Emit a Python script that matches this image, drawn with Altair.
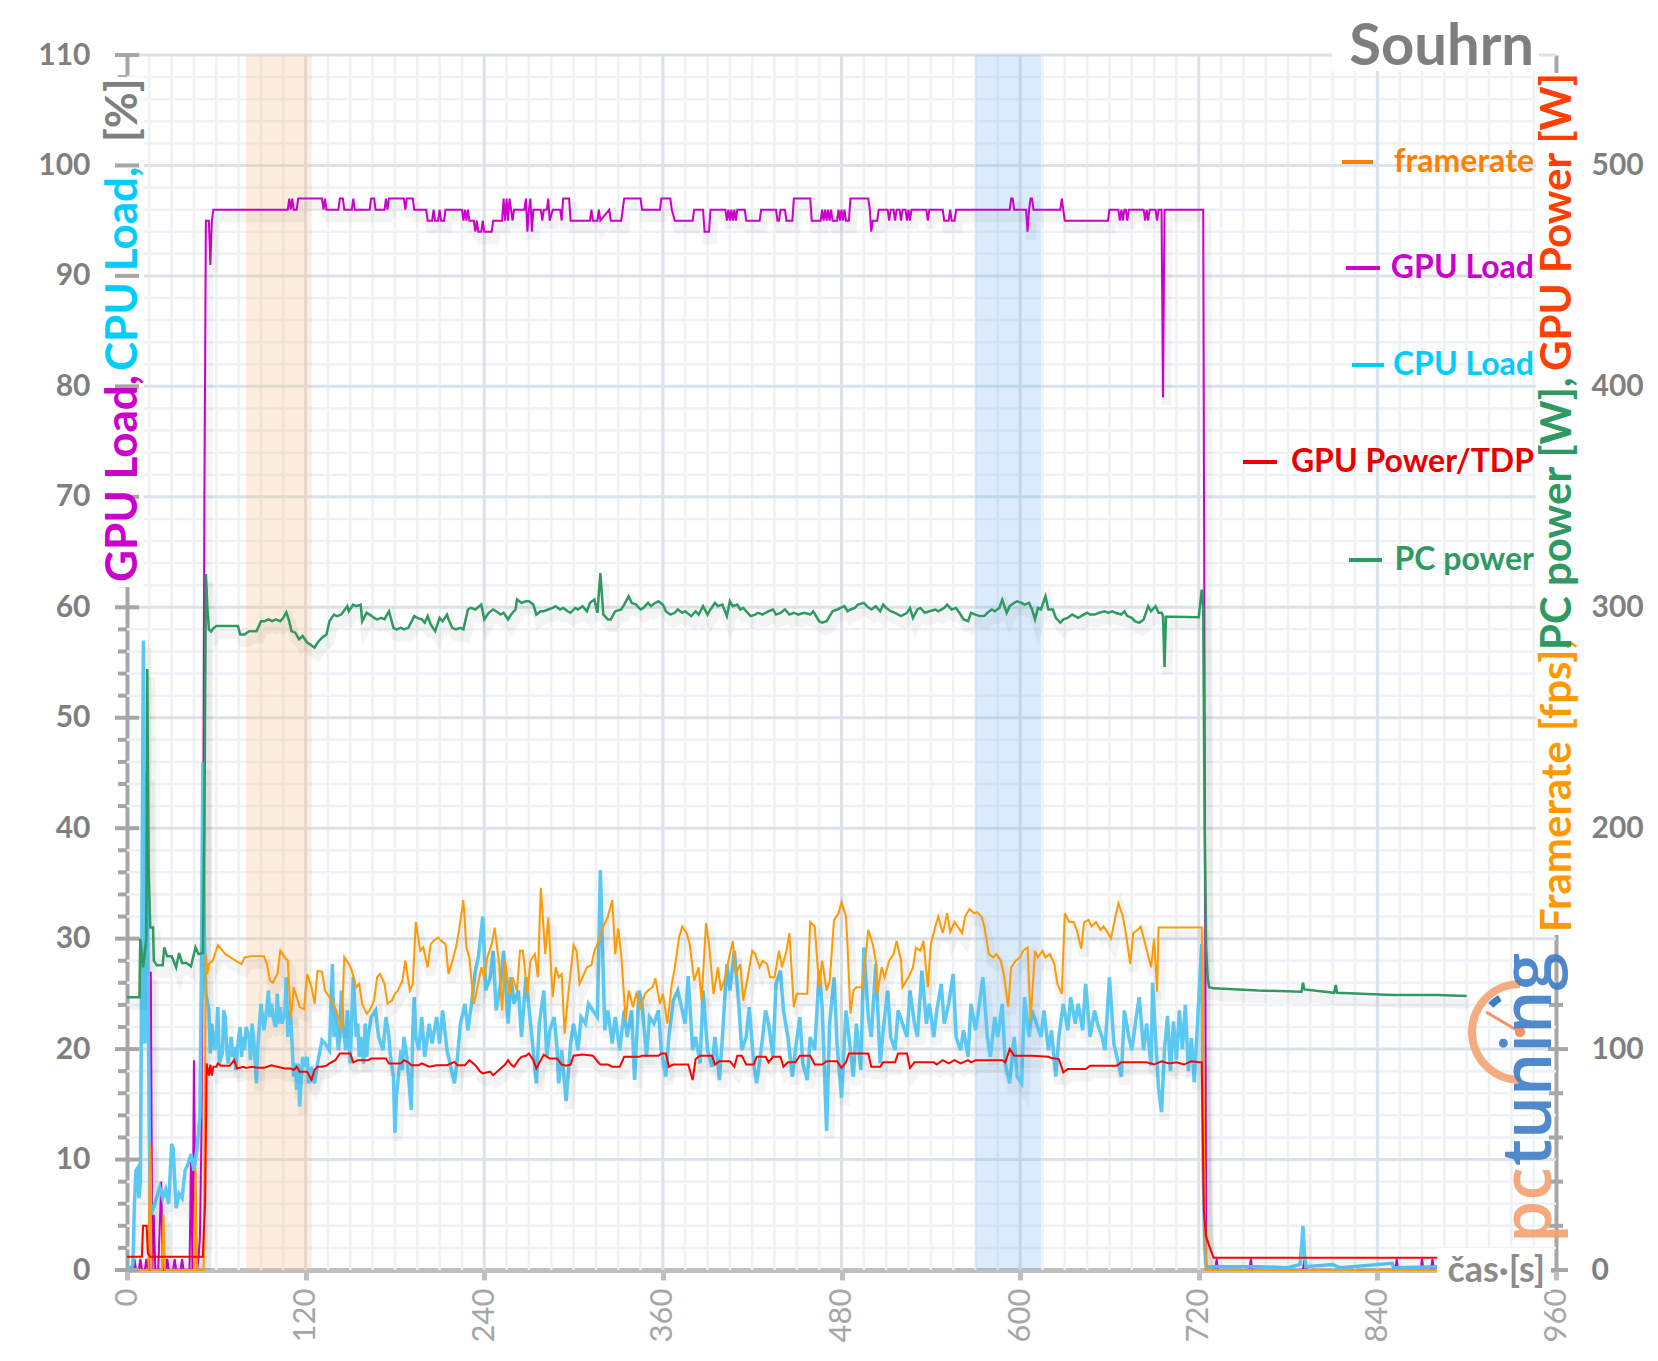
import altair as alt
import pandas as pd

W, H = 1429, 1215
FONT = "Lato"

# ---------------- data (time [s], value) ----------------
GPU_LOAD = [(0,0),(4,0),(5,1),(6,0),(8,0),(9,1),(10,0),(12,0),(13,1),(14,0),(15,0),(16,27),(17,0),(18,5),(19,0),(21,0),(23,8),(24,0),(26,0),(27,1),(28,0),(31,0),(32,1),(33,0),(36,0),(37,1),(38,0),(42,0),(43,10),(44,0),(45,19),(46,5),(47,0),(48,1),(49,3),(50,12),(51,32),(52,70),(53,95),(55,95),(56,91),(57,95),(58,96),
(108,96),(109,97),(110,96),(111,97),(112,96),(114,96),(115,97),(131,97),(132,96),(133,97),(134,96),(142,96),(143,97),(145,97),(146,96),(151,96),(152,97),(153,96),(163,96),(164,97),(166,97),(167,96),(173,96),(174,97),(175,96),(176,97),(186,97),(187,96),(188,97),(192,97),(193,96),(201,96),(202,95),(205,95),(206,96),(207,95),(209,95),(210,96),(211,95),(213,95),(214,96),(225,96),(226,95),(227,96),(228,95),(229,96),(230,95),(233,95),(234,94),(235,95),(236,94),(238,94),(239,95),(240,94),(245,94),(246,95),(252,95),(253,97),(254,95),(255,97),(256,95),(257,97),(258,96),(259,95),(260,96),(267,96),(268,97),(269,94),(270,96),(271,97),(272,94),(273,96),(278,96),(279,95),(280,96),(282,96),(283,97),(284,95),(286,96),(291,96),(292,95),(293,97),(297,97),(298,95),(311,95),(312,96),(313,95),(316,95),(317,96),(318,95),(324,96),(325,95),(332,95),(334,97),(345,97),(346,96),(358,96),(359,97),(365,97),(366,96),(368,95),
(380,95),(381,96),(387,96),(388,94),(391,94),(392,96),(402,96),(403,95),(404,96),(405,95),(406,96),(407,95),(408,96),(409,95),(410,96),(415,96),(416,95),(425,95),(426,96),(436,96),(437,95),(438,95),(439,96),(442,96),(443,95),(447,95),(448,97),(459,97),(460,95),(466,95),(467,96),(468,95),(469,96),(470,95),(471,96),(472,95),(473,96),(474,95),(477,95),(478,96),(479,95),(480,96),(481,95),(482,96),(483,95),(485,95),(486,97),(498,97),(499,96),(500,94),(501,95),(504,95),(505,96),(511,96),(512,95),(513,96),(515,96),(516,95),(517,96),(519,96),(520,95),(521,96),(523,96),(524,95),(525,96),(526,95),(527,96),(537,96),(538,95),(539,96),(548,96),(549,95),(552,95),(553,96),(554,95),(556,95),(557,96),(593,96),(594,97),(595,97),(596,96),(604,96),(605,94),(606,96),(607,97),(608,97),(609,96),(627,96),(628,97),(629,96),(630,95),(659,95),(660,96),(666,96),(667,95),(668,96),(669,95),(670,96),(671,96),(672,95),(673,96),(683,96),(684,95),(685,96),(686,95),(687,96),(691,96),(692,95),(693,96),(695,96),(696,79),(697,96),(723,96),(725,0),
(731,0),(732,1),(733,0),(754,0),(755,1),(756,0),(790,0),(791,1),(792,0),(852,0),(853,1),(854,0),(869,0),(870,1),(871,0),(876,0),(877,1),(878,0),(882,0)]

CPU_LOAD = [(0,0.3),(2,0),(4,0.5),(5,6),(6,9),(7,9.2),(8,6.5),(9,8),(10,30),(11,57),(12,20.5),(13,45),(14,29),(15,12),(16,5),(18,5.7),(20,6.6),(22,7.5),(24,6.5),(26,7.3),(28,6),(30,11.4),(31,11),(33,5.6),(35,6.9),(37,6.5),(39,9),(41,9.6),(43,10.5),(45,9),(47,11),(49,14),(50,27),(51,46),(52,30),(53,25),
(55,23.5),(56,19.6),(57,22.3),(59,19.9),(60,21.1),(61,23.8),(62,18.7),(64,19.6),(65,23.5),(66,22.9),(67,19.9),(68,18.7),(70,21.1),(71,19.3),(72,20.2),(73,18.1),(75,21.1),(76,22.0),(77,19.3),(78,21.1),(79,19.9),(80,22.0),(82,21.1),(83,19.0),(84,22.3),(85,21.1),(87,16.9),(88,20.5),(89,22.3),(90,24.1),(91,22.9),(92,21.7),(94,23.8),(95,25.3),(96,22.9),(97,24.1),(99,22.3),(100,22.0),(101,25.0),(102,22.3),(103,23.8),(104,22.3),(106,23.2),(107,26.5),(108,21.1),(109,23.5),(110,22.9),(112,17.5),(113,18.7),(114,16.3),(115,18.7),(116,14.8),(118,19.3),(119,18.4),(121,19.3),(122,16.9),(124,18.4),(126,16.9),(128,18.7),(131,20.8),(133,20.5),(136,19.9),(138,27.7),(139,21.1),(140,23.5),(142,19.9),(143,21.1),(144,25.3),(145,22.3),(147,19.9),(148,23.5),(149,21.1),(150,18.7),(151,22.9),(152,26.5),(154,21.1),(155,22.3),(156,19.3),(157,21.1),(159,18.7),(160,22.3),(161,19.3),(162,21.1),(164,22.9),(167,23.5),(169,21.1),(172,19.9),(174,22.9),(176,21.1),(177,19.3),(179,17.5),(180,12.4),(181,15.7),(184,19.9),(185,18.1),(186,21.1),(188,19.3),(191,14.5),(192,21.7),(193,24.7),(194,21.1),(196,19.9),(198,22.9),(200,19.3),(203,22.3),(205,20.5),(208,22.9),(210,20.5),(212,23.5),(215,19.9),(217,18.7),(220,16.9),(222,19.3),(224,22.3),(227,24.1),(229,21.7),(232,24.7),(234,27.1),(236,28.3),(239,32.0),(241,25.3),(244,26.5),(246,28.9),(248,23.5),(251,25.9),(253,28.9),(256,22.3),(258,26.5),(260,24.1),(263,25.3),(265,21.1),(268,26.5),(270,23.8),(272,21.1),(275,16.9),(277,22.3),(280,25.3),(282,19.3),(284,21.7),(287,22.9),(289,19.9),(290,16.9),(292,19.9),(295,15.3),(298,20.5),(300,22.3),(303,19.9),(305,22.9),(308,22.3),(310,24.1),(313,23.5),(316,22.9),(318,36.2),(321,21.7),(323,23.5),(326,20.5),(328,22.9),(331,19.9),(334,23.5),(336,21.1),(339,23.5),(341,17.2),(344,25.3),(346,24.1),(349,19.3),(351,22.9),(354,22.3),(357,23.5),(359,19.9),(362,17.5),(364,21.1),(367,24.4),(370,25.3),(372,24.1),(375,22.3),(377,26.6),(380,19.9),(382,21.1),(385,18.7),(387,25.3),(390,19.9),(393,18.4),(395,21.1),(398,17.2),(400,21.1),(403,27.7),(405,25.3),(408,28.9),(411,24.1),(413,19.9),(416,21.1),(418,23.8),(421,18.7),(423,16.9),(426,19.9),(429,23.5),(431,22.3),(434,19.3),(436,25.9),(439,27.1),(441,23.5),(444,21.1),(447,17.5),(449,19.9),(452,22.9),(454,18.7),(457,17.2),(459,21.1),(462,19.9),(465,27.1),(467,23.8),(470,12.6),(472,22.3),(475,26.5),(477,20.5),(480,15.6),(483,23.5),(485,21.1),(488,17.5),(490,22.3),(493,18.1),(495,29.2),(498,22.9),(500,21.1),(503,27.7),(506,18.7),(508,21.7),(511,25.3),(513,21.1),(516,19.9),(518,23.5),(521,22.3),(524,21.1),(526,25.3),(529,22.3),(531,21.1),(534,27.1),(537,22.3),(539,24.1),(542,21.1),(544,23.5),(547,25.9),(549,22.3),(552,24.1),(555,26.8),(557,21.1),(560,19.9),(562,21.7),(565,19.3),(567,24.1),(570,21.7),(572,23.5),(575,26.5),(578,21.1),(580,19.3),(583,22.9),(585,21.1),(588,24.1),(590,18.7),(593,16.9),(596,21.1),(598,17.5),(601,16.9),(603,24.7),(606,21.1),(608,23.5),(611,22.3),(614,21.1),(616,23.5),(619,19.9),(621,21.7),(624,17.5),(626,21.1),(629,24.1),(632,21.7),(634,24.7),(637,22.3),(639,24.1),(642,21.7),(644,25.9),(647,21.1),(650,23.5),(652,22.3),(655,21.1),(657,19.9),(660,26.5),(663,20.5),(665,19.3),(668,17.5),(670,23.5),(673,21.1),(675,19.9),(678,22.9),(680,24.7),(683,19.9),(685,22.3),(688,18.5),(689,26),(691,21),(693,16.5),(695,14.3),(697,20),(699,23),(701,18),(703,22.5),(705,19),(707,23.5),(709,20),(711,24),(713,18),(715,21),(717,17),(719,22),(721,27),(722,29.5),(723,10),(724,2),(725,0.3),
(760,0.3),(780,0.2),(788,0.5),(789,2),(790,4),(791,1.5),(792,0.3),(810,0.5),(815,0.2),(850,0.6),(851,0.2),(882,0.3)]

FRAMERATE = [(0,0),(14.5,0),(15.5,57),(16.5,0),(23.5,0),(24.5,25),(25.5,0),(45,0),(46,46),(47,0),(51.5,0),(53,143),(54,134),(55,138.5),(57.6,140),(61,147),(63.6,145),(66,143),(69.6,141.5),(73,140),(77,138.5),(79,141.5),(83,142),(92,142),(94,138.5),(96,131),(98,130),(101,134),(103,144.5),(106,141.5),(108,140),(110,114.5),(112,128),(114,123.5),(116,119),(119,118),(121,134),(124,128),(126,120.5),(128,135.5),(131,135),(133,126.5),(136,123.5),(138,122),(142,114.5),(144,108.5),(146,141.5),(149,138.5),(151,135.5),(154,128),(156,129.5),(158,120.5),(161,116),(163,117.5),(166,122),(168,132.5),(170,134),(173,129.5),(175,120.5),(178,122),(180,125),(182,126.5),(185,131),(187,140),(190,126.5),(192,129.5),(194,157.5),(197,144.5),(199,146),(202,137),(204,147.5),(206,149),(209,150.5),(211,149),(214,147.5),(216,134),(218,138.5),(221,146),(223,153.5),(226,167.5),(228,146),(230,141.5),(233,120.5),(235,126.5),(238,137),(240,132.5),(242,141.5),(245,147.5),(247,155),(250,138.5),(252,117.5),(254,140),(257,125),(259,132.5),(262,126.5),(264,144.5),(266,144.5),(269,125),(271,140),(274,143),(276,132.5),(278,173),(281,143),(283,159.5),(286,123.5),(288,137),(290,132.5),(292,134),(294,107),(296,122),(300,147),(302,144.5),(304,129.5),(307,134),(309,137),(312,138),(314,144.5),(317,149),(319,154),(323,160),(326,167.5),(328,143),(330,154.5),(332,143),(335,113),(337,126.5),(340,119),(342,125),(345,119),(348,125),(350,126.5),(353,128),(355,132),(358,120.5),(360,125),(363,111.5),(366,129.5),(368,137),(371,151),(373,155.5),(376,152.5),(378,147.5),(381,131),(384,137),(386,122),(389,157),(391,147.5),(394,125),(397,137),(399,126.5),(402,132.5),(404,140),(407,149),(409,134),(412,138.5),(414,122),(417,132.5),(420,144.5),(422,143),(425,137),(427,140),(430,138.5),(432,132.5),(435,132.5),(438,144.5),(440,137),(443,144.5),(445,152.5),(448,119),(450,125),(453,125),(457,125),(459,157.5),(462,155.5),(465,128),(467,140),(470,126.5),(472,130.5),(475,158.5),(478,161.5),(480,166.5),(483,160),(484,147.5),(486,116),(488,126.5),(490,128),(494,128),(498,154),(501,147.5),(503,140),(504,125),(507,137),(509,132.5),(512,140),(515,143),(517,149),(520,140),(521,128),(525,132.5),(528,137),(530,146),(533,144.5),(535,149),(538,128),(540,147.5),(543,155.5),(545,160),(548,152.5),(551,161.5),(553,153),(556,157.5),(558,155.5),(561,152.5),(563,160),(566,163.5),(569,161.5),(571,162),(574,160),(576,155.5),(579,143),(582,141.5),(584,143),(587,140),(589,134),(592,119),(594,137),(597,140),(600,141.5),(602,144.5),(605,146),(607,113),(610,144.5),(612,141.5),(615,144.5),(617,141.5),(620,143),(623,138.5),(625,129.5),(628,125),(630,161.5),(633,157.5),(636,157.5),(638,154),(641,145.5),(643,157.5),(646,158.5),(648,155.5),(651,157.5),(654,154),(656,155.5),(659,152.5),(661,150),(664,160),(666,166),(669,160),(671,152.5),(674,138.5),(676,152.5),(679,154),(681,155.5),(685,145),(688,137),(690,150),(692,126),(693,155),(722,155),(723,100),(724,30),(725,0),(882,0)]

GPU_POWER = [(0,6),(10,6),(10.8,20),(13.2,20),(14,7.5),(15.5,6),(51,6),(51.6,17.5),(52.5,30),(53.5,93.5),(55,88),(56,93),(57,88),(58,92),(60,92),(61,93.5),(63,92.5),(66,92.5),(69,92.5),(72,95),(74,91.2),(78,92),(80,91.5),(84,92),(88,91.5),(92,91.5),(97,92.7),(101,92),(106,91.2),(110,91.2),(112,90.5),(114,92),(116,89.7),(119,89.7),(121,89.7),(124,86),(126,90.5),(128,92),(131,92),(134,92.5),(136,93.5),(140,95),(143,98),(146,98),(150,98),(152,94),(155,95),(158,95),(162,95),(164,95.7),(168,95.7),(170,95.7),(174,95.7),(176,93.5),(180,93.5),(184,93.5),(186,95),(189,94),(191,92.7),(196,92.7),(198,93.5),(203,92),(208,92.7),(215,92.7),(220,94.2),(222,92.7),(227,92.7),(230,95),(234,92.7),(237,90),(239,89),(242,89.5),(244,89.7),(246,88.2),(249,90),(251,91.2),(254,93),(256,95),(258,93),(260,92),(263,95),(265,96.5),(268,97),(270,98),(273,95),(275,91.2),(278,95),(280,97.5),(284,95.7),(289,95.7),(292,93),(295,92.5),(298,93),(300,97),(306,97.5),(313,97),(316,94.5),(318,93),(323,93),(326,92),(331,92),(334,96.5),(338,96.5),(344,96.5),(346,97),(357,97),(359,98),(362,98),(364,92),(367,93),(377,93),(380,86),(382,95.5),(385,97),(393,97),(395,93),(398,94.5),(405,94.5),(408,92),(410,97),(413,97),(416,93),(421,93),(423,96.5),(429,96.5),(431,94),(434,96.5),(439,96.5),(441,92),(444,94),(449,94),(452,97),(459,97),(462,93),(467,93),(470,94.5),(477,94.5),(480,91.5),(483,94),(485,98),(498,98),(500,92),(506,92),(508,94),(516,94),(518,98),(524,98),(526,91.5),(529,94),(531,94),(542,94),(544,93),(548,95),(552,93.5),(556,95),(560,93.5),(565,95),(567,94),(570,95),(588,95),(590,94),(593,100),(596,97),(608,97),(619,96.5),(621,96),(626,95.5),(629,89.5),(632,91),(644,91),(647,92.5),(665,92.5),(668,94),(685,94),(690,93),(695,94.5),(700,93.5),(705,94),(710,93),(715,94.5),(720,94),(722,94),(723.4,27.5),(724.8,15.5),(728,9),(730,5.5),(885,5.5)]

PC_POWER = [(0,123.5),(8.4,123.5),(8.9,150),(10.8,137),(13,150),(13.6,272),(14.6,180),(15.6,155),(17.5,155),(18,140),(20,138),(24,138),(25,146),(27,142),(30,142),(33,137),(35,143.5),(37,139),(40,139),(43,137.5),(46,146),(48,143),(51,143.5),(52,200),(53,315),(54,300),(55,290),(56.5,289),(58,290.5),(60,291.5),(74.5,291.5),(76,287.7),(79,287.7),(82,289.2),(87,289.2),(90,293.7),(92.5,293.7),(95,294.5),(97.6,293.7),(100,294.5),(103,293.7),(105,295.2),(107,297.8),(109,293.7),(110.5,289.2),(113,288.5),(115.6,285.5),(118,287),(121,284),(123,283.2),(126,281.7),(128,284),(131,286.2),(134,287.7),(136,293.7),(139,296.7),(141,296),(144,296.7),(148,300.5),(149,298.2),(152,301.2),(154,300.5),(157,301.2),(158,293.7),(161,297.5),(163,296.7),(166,295.2),(168,294.5),(171,295.2),(173,294.5),(176,298.2),(179,290.7),(181,290),(184,290.7),(186,290),(189,290.7),(193,296),(195,295.2),(198,294.5),(200,293),(202,296),(204,292.2),(207,289.2),(210,295.2),(212,293.7),(215,296.7),(216,294.5),(218.5,290.7),(221,290),(224,290.7),(226,290),(229,299),(231,299.7),(234,299),(238,301.2),(240,294.5),(243,297.5),(246,299),(248,298.2),(251,296.7),(253,297.5),(256,294.5),(258,296.7),(261,299),(262,303.5),(265,302),(268,302.7),(270,302.7),(273,301.2),(275,296.7),(278,298.2),(280,298.2),(283,299),(286,299.7),(288,300.5),(291,299),(293,299.7),(296,298.2),(298,297.5),(301,299.7),(303,299),(306,300.5),(309,298.2),(311,302),(314,303.5),(316,297.5),(318,315.5),(320,296.7),(323,294.5),(325,294.5),(328,298.2),(332,299),(334,301.2),(337,305),(339,302),(342,301.2),(345,299),(347,299.7),(350,302),(352,300.5),(355,302),(357,302.7),(360,301.2),(362,298.2),(365,296.7),(368,297.5),(370,299),(373,297.5),(375,298.2),(379,296),(382,298.2),(384,296.7),(387,300.5),(390,296.7),(392,299),(395,302),(397,300.5),(400,301.2),(403,296),(405,302.7),(407,300.5),(410,301.2),(412,299),(414,299.7),(417,297.5),(419,296),(422,296.7),(424,297.5),(427,296.7),(429,297.5),(431,298.2),(434,299),(436,296.7),(439,297.5),(442,299),(445,296.7),(448,297.5),(451,296.7),(455,297.5),(459,296.7),(461,298.2),(465,293.7),(467,293),(470,293.7),(474,298.2),(477,299),(482,300.5),(484,298.2),(486,299),(489,299.7),(491,301.2),(495,302),(497,300.5),(500,299),(503,300.5),(506,298.2),(508,301.2),(510,299.7),(513,298.2),(516,297.5),(520,296),(524,297.5),(526,299.7),(528,295.2),(531,299),(533,299.7),(536,297.5),(539,298.2),(543,299),(545,298.2),(549,299.7),(551,301.2),(554,299),(557,299.7),(560,296.7),(562,294.5),(565,293.7),(567,297.5),(570,296.7),(573,296),(576,296),(578,297.5),(581,299),(583,298.2),(586,299.7),(588,303.4),(591,297.5),(593,300.5),(596,302),(598,302.7),(601,302),(603,301.2),(606,302),(608,299),(610,294.5),(612,299.7),(614,299),(617,305),(619,299),(622,299),(624,295.2),(627,293),(629,294.5),(632,295.2),(635,296.7),(639,295.2),(641,296),(645,297.5),(647,296.7),(650,296.7),(653,297.5),(657,298.2),(659,297.5),(662,298.2),(664,297.5),(668,296.7),(670,298.2),(672,296),(675,295.2),(677,293.7),(680,293),(683,294.5),(686,300.5),(688,298.2),(691,300.5),(693,297.5),(695,297.5),(696,296),(697,273),(698,295.7),(702,295.7),(720,295.5),(722,308),(723,300),(724,200),(725,145),(726,132),(727,128),(730,127.5),(760,126.5),(789,126),(790,130),(791,127),(811,125.5),(812,129),(813,125.5),(850,124.5),(880,124.5),(900,124)]

ORANGE_BAND = [80, 124]
BLUE_BAND = [570, 614]

X_TICKS = [0, 120, 240, 360, 480, 600, 720, 840, 960]
Y_LEFT_TICKS = list(range(0, 111, 10))
Y_RIGHT_TICKS = [0, 100, 200, 300, 400, 500]

# ---------------- scales / axes ----------------
xs = alt.Scale(domain=[0, 960], nice=False, zero=False)
yl = alt.Scale(domain=[0, 110], nice=False, zero=True)
yr = alt.Scale(domain=[0, 550], nice=False, zero=True)

x_axis = alt.Axis(values=X_TICKS, title=None, grid=False, ticks=True, tickSize=10, tickWidth=5,
                  tickColor="#BFBFBF", domainColor="#BFBFBF", domainWidth=5, labelAngle=270,
                  labelAlign="right", labelBaseline="middle", labelFont=FONT, labelFontSize=31,
                  labelColor="#A6A6A6", labelPadding=8, labelFlush=False, labelOverlap=False)
left_axis = alt.Axis(values=Y_LEFT_TICKS, title=None, grid=False, ticks=False, domainColor="#A6A6A6",
                     domainWidth=4, labelFont=FONT, labelFontSize=30, labelFontWeight="bold",
                     labelColor="#7F7F7F", labelPadding=37, labelFlush=False, labelOverlap=False)
right_axis = alt.Axis(values=Y_RIGHT_TICKS, orient="right", title=None, grid=False, ticks=False,
                      domainColor="#A6A6A6", domainWidth=4, labelFont=FONT, labelFontSize=30,
                      labelFontWeight="bold", labelColor="#7F7F7F", labelPadding=35,
                      labelFlush=False, labelOverlap=False)


def XE(field="t"):
    return alt.X(f"{field}:Q", scale=xs, axis=x_axis)


def YL(field="v"):
    return alt.Y(f"{field}:Q", scale=yl, axis=left_axis)


def YR(field="v"):
    return alt.Y(f"{field}:Q", scale=yr, axis=right_axis)


def frame(points):
    return pd.DataFrame(points, columns=["t", "v"])


ONE = pd.DataFrame({"a": [0]})


def shadow(points, yenc_fn, dv):
    # soft drop shadow drawn under a series (offset down-right)
    return (alt.Chart(frame(points))
            .transform_calculate(ts="datum.t + 2", vs=f"datum.v - {dv}")
            .mark_line(color="#000000", opacity=0.045, strokeWidth=10, clip=True)
            .encode(x=XE("ts"), y=yenc_fn("vs")))


# ---------------- grid ----------------
v_minor = [t for t in range(15, 960, 15) if t % 120]
v_major = [t for t in range(120, 960, 120)]
h_minor = [v for v in range(2, 110, 2) if v % 10]
h_major = [v for v in range(10, 111, 10)]

grid = [
    alt.Chart(pd.DataFrame({"t": v_minor})).mark_rule(color="#EEF1F5", strokeWidth=2.5).encode(x=XE()),
    alt.Chart(pd.DataFrame({"v": h_minor})).mark_rule(color="#EEF1F5", strokeWidth=2.5).encode(y=YL()),
    alt.Chart(pd.DataFrame({"t": v_major})).mark_rule(color="#DCE2EA", strokeWidth=3).encode(x=XE()),
    alt.Chart(pd.DataFrame({"v": h_major})).mark_rule(color="#DCE2EA", strokeWidth=3).encode(y=YL()),
]

bands = [
    alt.Chart(pd.DataFrame({"t": [ORANGE_BAND[0]], "t2": [ORANGE_BAND[1]]}))
       .mark_rect(color="#F9C08A", opacity=0.28)
       .encode(x=XE(), x2="t2:Q", y=alt.value(0), y2=alt.value(H)),
    alt.Chart(pd.DataFrame({"t": [BLUE_BAND[0]], "t2": [BLUE_BAND[1]]}))
       .mark_rect(color="#7FB5F0", opacity=0.27)
       .encode(x=XE(), x2="t2:Q", y=alt.value(0), y2=alt.value(H)),
]

left_minor_ticks = alt.Chart(pd.DataFrame({"v": h_minor})).mark_rule(color="#A6A6A6", strokeWidth=4).encode(
    y=YL(), x=alt.value(-9), x2=alt.value(0))

magenta = alt.Chart(frame(GPU_LOAD)).mark_line(color="#CC00CC", strokeWidth=2).encode(x=XE(), y=YL())
cyan = alt.Chart(frame(CPU_LOAD)).mark_line(color="#5BC8F2", strokeWidth=3.5).encode(x=XE(), y=YL())

left = alt.layer(*grid, *bands, left_minor_ticks,
                 shadow(GPU_LOAD, YL, 0.7), shadow(CPU_LOAD, YL, 0.7),
                 magenta, cyan)

right_minor = [v for v in range(20, 550, 20) if v % 100]
right_minor_ticks = alt.Chart(pd.DataFrame({"v": right_minor})).mark_rule(color="#A6A6A6", strokeWidth=4).encode(
    y=YR(), x=alt.value(W - 7), x2=alt.value(W + 7))
right_major_ticks = alt.Chart(pd.DataFrame({"v": Y_RIGHT_TICKS})).mark_rule(color="#A6A6A6", strokeWidth=4).encode(
    y=YR(), x=alt.value(W - 8), x2=alt.value(W + 12))
orange = alt.Chart(frame(FRAMERATE)).mark_line(color="#FF9A00", strokeWidth=2).encode(x=XE(), y=YR())
red = alt.Chart(frame(GPU_POWER)).mark_line(color="#FF0000", strokeWidth=2).encode(x=XE(), y=YR())
green = alt.Chart(frame(PC_POWER)).mark_line(color="#2E9960", strokeWidth=2.5).encode(x=XE(), y=YR())

right = alt.layer(right_minor_ticks, right_major_ticks,
                  shadow(FRAMERATE, YR, 3.5), shadow(GPU_POWER, YR, 3.5), shadow(PC_POWER, YR, 3.5),
                  orange, red, green)


# ---------------- annotations ----------------
def box(x1, x2, y1, y2):
    return alt.Chart(ONE).mark_rect(color="white").encode(
        x=alt.value(x1), x2=alt.value(x2), y=alt.value(y1), y2=alt.value(y2))


def label(s, x, y, color, size, angle=0, align="left", baseline="middle", weight="bold", font=FONT, opacity=1):
    return alt.Chart(ONE).mark_text(text=s, color=color, fontSize=size, angle=angle, align=align,
                                    baseline=baseline, fontWeight=weight, font=font, opacity=opacity).encode(
        x=alt.value(x), y=alt.value(y))


def seg(x1, x2, y, color, width=4):
    return alt.Chart(ONE).mark_rule(color=color, strokeWidth=width).encode(
        x=alt.value(x1), x2=alt.value(x2), y=alt.value(y))


left_major_ticks = alt.Chart(pd.DataFrame({"v": Y_LEFT_TICKS})).mark_rule(color="#A6A6A6", strokeWidth=4).encode(
    y=alt.Y("v:Q", scale=yl, axis=None), x=alt.value(-12), x2=alt.value(12))

annot = [
    box(-31, 17, 22, 532),
    box(W - 20, W + 24, 18, 880),
    box(1205, 1412, -45, 16),
    box(1310, 1424, H - 22, H + 22),
    left_major_ticks,
    label("GPU Load,", 10, 527, "#CC00CC", 44, angle=270, baseline="alphabetic"),
    label("CPU Load,", 10, 316, "#00CCFF", 44, angle=270, baseline="alphabetic"),
    label("[%]", 10, 87, "#7F7F7F", 44, angle=270, baseline="alphabetic"),
    label("Framerate [fps],", W + 15, 877, "#FF9900", 42, angle=270, baseline="alphabetic"),
    label("PC power [W],", W + 15, 595, "#2E9960", 42, angle=270, baseline="alphabetic"),
    label("GPU Power [W]", W + 15, 316, "#FF4000", 42, angle=270, baseline="alphabetic"),
    label("Souhrn", 1407, 10, "#7F7F7F", 58, align="right", baseline="alphabetic"),
    label("čas·[s]", 1418, H + 1, "#8C8C8C", 36, align="right"),
    seg(1215, 1246, 107, "#FF8000"),
    label("framerate", 1407, 107, "#FF8000", 32, align="right"),
    seg(1219, 1253, 213, "#CC00CC"),
    label("GPU Load", 1407, 213, "#CC00CC", 32, align="right"),
    seg(1225, 1257, 310, "#00CCFF"),
    label("CPU Load", 1407, 310, "#00CCFF", 32, align="right"),
    seg(1116, 1150, 407, "#EE0000"),
    label("GPU Power/TDP", 1407, 407, "#E60000", 32, align="right"),
    seg(1222, 1255, 505, "#2E9960"),
    label("PC power", 1407, 505, "#2E9960", 32, align="right"),
    # logo
    alt.Chart(ONE).mark_arc(theta=3.1416, theta2=6.2832, radius=52, radius2=44, color="#F4A372", opacity=0.9)
       .encode(x=alt.value(1393), y=alt.value(977)),
    alt.Chart(ONE).mark_arc(theta=5.45, theta2=5.75, radius=43, radius2=36, color="#3D7CC9")
       .encode(x=alt.value(1393), y=alt.value(977)),
    alt.Chart(ONE).mark_rule(color="#F0956A", strokeWidth=3)
       .encode(x=alt.value(1359), x2=alt.value(1393), y=alt.value(957), y2=alt.value(977)),
    alt.Chart(ONE).mark_point(filled=True, size=110, color="#F0956A", opacity=1)
       .encode(x=alt.value(1393), y=alt.value(977)),
    label("pc", 1424, 1188, "#F4A070", 68, angle=270, baseline="alphabetic", font="Open Sans",
          weight=600, opacity=0.9),
    label("tuning", 1424, 1111, "#3F7EC7", 68, angle=270, baseline="alphabetic", font="Open Sans",
          weight=600, opacity=0.9),
]

annotations = alt.layer(*annot)

chart = alt.layer(left, right, annotations).resolve_scale(y="independent").properties(
    width=W, height=H,
    padding={"left": 119, "top": 47, "right": 90, "bottom": 80},
    autosize=alt.AutoSizeParams(type="none"),
    background="white",
).configure_view(strokeWidth=0)

chart.save("out.html", embed_options={"renderer": "svg", "actions": False})
